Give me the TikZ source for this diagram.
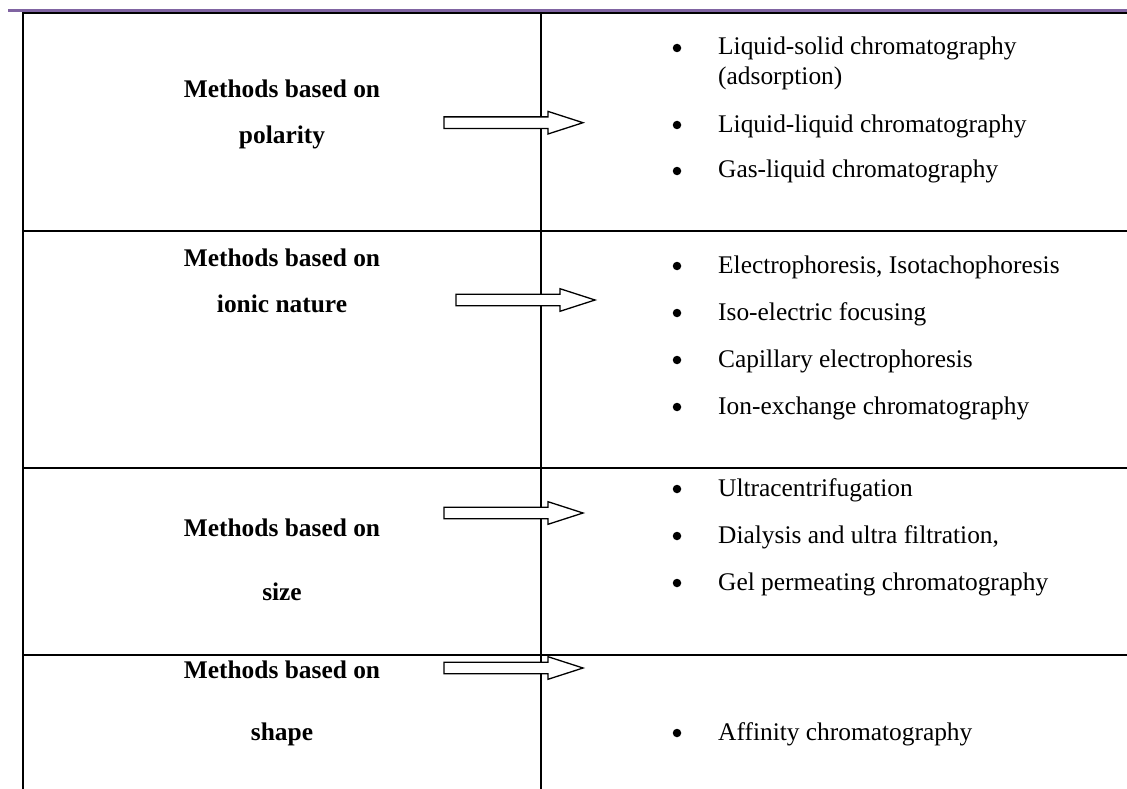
\documentclass[tikz,border=0pt]{standalone}
\usepackage{fontspec}
\setmainfont{Liberation Serif}
\definecolor{accentpurple}{HTML}{8064A2}
\begin{document}
\begin{tikzpicture}[x=1pt,y=-1pt,
  rule/.style={line width=2pt, black},
  topband/.style={line width=2.7pt, accentpurple},
  headtxt/.style={font=\fontsize{25.4}{30}\selectfont\bfseries, inner sep=0pt, anchor=base},
  itemtxt/.style={font=\fontsize{25.4}{30}\selectfont, inner sep=0pt, anchor=base west},
  bulletdot/.style={circle, fill=black, inner sep=0pt, minimum size=8.5pt},
  blockarr/.pic={\draw[line width=1.3pt, fill=white] (0,-5.8) -- (104,-5.8) -- (104,-11.3) -- (139,0) -- (104,11.3) -- (104,5.8) -- (0,5.8) -- cycle;},
]
\useasboundingbox (0,0) rectangle (1127,789);
% table rules
\draw[topband] (8,10.3) -- (1127,10.3);
\draw[rule] (22,13) -- (1127,13);
\draw[rule] (23,13) -- (23,789);
\draw[rule] (541,13) -- (541,789);
\draw[rule] (22,231) -- (1127,231);
\draw[rule] (22,468) -- (1127,468);
\draw[rule] (22,655) -- (1127,655);

% row 1
\node[headtxt] (h1a) at (282,98) {Methods based on};
\node[headtxt] (h1b) at (282,143) {polarity};
\pic at (444,122.7) {blockarr};
\node[itemtxt] (i11) at (718,55) {Liquid-solid chromatography};
\node[itemtxt] (i11b) at (718,85) {(adsorption)};
\node[itemtxt] (i12) at (718,132) {Liquid-liquid chromatography};
\node[itemtxt] (i13) at (718,178) {Gas-liquid chromatography};
\node[bulletdot] (b11) at (677,48) {};
\node[bulletdot] (b12) at (677,125) {};
\node[bulletdot] (b13) at (677,171) {};

% row 2
\node[headtxt] (h2a) at (282,266) {Methods based on};
\node[headtxt] (h2b) at (282,312) {ionic nature};
\pic at (456,300) {blockarr};
\node[itemtxt] (i21) at (718,273) {Electrophoresis, Isotachophoresis};
\node[itemtxt] (i22) at (718,320) {Iso-electric focusing};
\node[itemtxt] (i23) at (718,367) {Capillary electrophoresis};
\node[itemtxt] (i24) at (718,414) {Ion-exchange chromatography};
\node[bulletdot] (b21) at (677,266) {};
\node[bulletdot] (b22) at (677,313) {};
\node[bulletdot] (b23) at (677,360) {};
\node[bulletdot] (b24) at (677,407) {};

% row 3
\node[headtxt] (h3a) at (282,536) {Methods based on};
\node[headtxt] (h3b) at (282,600) {size};
\pic at (444,513) {blockarr};
\node[itemtxt] (i31) at (718,496) {Ultracentrifugation};
\node[itemtxt] (i32) at (718,543) {Dialysis and ultra filtration,};
\node[itemtxt] (i33) at (718,590) {Gel permeating chromatography};
\node[bulletdot] (b31) at (677,489) {};
\node[bulletdot] (b32) at (677,536) {};
\node[bulletdot] (b33) at (677,583) {};

% row 4
\node[headtxt] (h4a) at (282,678) {Methods based on};
\node[headtxt] (h4b) at (282,740) {shape};
\pic at (444,668) {blockarr};
\node[itemtxt] (i41) at (718,740) {Affinity chromatography};
\node[bulletdot] (b41) at (677,733) {};
\end{tikzpicture}
\end{document}
